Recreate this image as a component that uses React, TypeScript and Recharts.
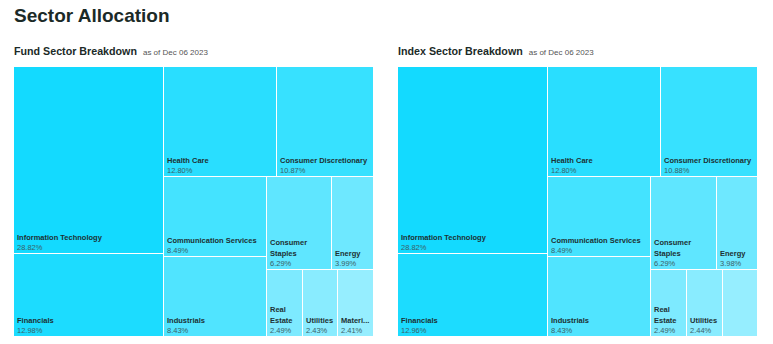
import React from 'react';
import { Treemap } from 'recharts';

const sectors = [
  'Information Technology',
  'Financials',
  'Health Care',
  'Consumer Discretionary',
  'Communication Services',
  'Industrials',
  'Consumer Staples',
  'Energy',
  'Real Estate',
  'Utilities',
  'Materials',
];
const fundWeights = [28.82, 12.98, 12.8, 10.87, 8.49, 8.43, 6.29, 3.99, 2.49, 2.43, 2.41];
const indexWeights = [28.82, 12.96, 12.8, 10.88, 8.49, 8.43, 6.29, 3.98, 2.49, 2.44, 2.41];

// cyan shades, largest sector first
const shades = [
  '#13daff', '#1cdcff', '#29deff', '#37e1ff', '#44e3ff', '#50e4ff',
  '#5fe6ff', '#6ee8ff', '#7deaff', '#89ecff', '#96eeff',
];

// the small sectors are grouped so they sit as two rows in the bottom-right corner
const groups = [[6, 7], [8, 9, 10]];

const asOf = 'as of Dec 06 2023';

const FONT = '"Liberation Sans", Arial, sans-serif';
const NAME_FONT = `bold 7.5px ${FONT}`;
const MAP_W = 360;
const MAP_H = 270;
// below this width a label that would need an ellipsis is dropped
const MIN_TRUNCATED_W = 36;

const buildTree = (weights: number[]) => {
  const leaf = (i: number) => ({ name: sectors[i], value: weights[i], rank: i });
  const grouped = groups.flat();
  const top = sectors.map((_, i) => i).filter((i) => !grouped.includes(i)).map(leaf);
  return [...top, ...groups.map((g, gi) => ({ name: `group-${gi}`, children: g.map(leaf) }))];
};

let measureCtx: CanvasRenderingContext2D | null = null;
const textWidth = (text: string, font: string) => {
  if (!measureCtx) measureCtx = document.createElement('canvas').getContext('2d');
  if (!measureCtx) return text.length * 4.2;
  measureCtx.font = font;
  return measureCtx.measureText(text).width;
};

const fitWord = (word: string, maxW: number) => {
  if (textWidth(word, NAME_FONT) <= maxW) return { text: word, cut: false };
  let cut = word.length - 1;
  while (cut > 1 && textWidth(word.slice(0, cut) + '...', NAME_FONT) > maxW) cut--;
  return { text: word.slice(0, cut) + '...', cut: true };
};

const wrapLabel = (label: string, maxW: number) => {
  const lines: string[] = [];
  let truncated = false;
  let current = '';
  for (const word of label.split(' ')) {
    const next = current ? `${current} ${word}` : word;
    if (textWidth(next, NAME_FONT) <= maxW) current = next;
    else {
      if (current) lines.push(current);
      const fitted = fitWord(word, maxW);
      truncated = truncated || fitted.cut;
      current = fitted.text;
    }
  }
  if (current) lines.push(current);
  return { lines, truncated };
};

const SectorCell = (props: any) => {
  const { x, y, width, height, name, value, rank, children, depth } = props;
  if (!depth || (children && children.length)) return null;
  const { lines, truncated } = wrapLabel(name, width - 6);
  const showLabel = !truncated || width >= MIN_TRUNCATED_W;
  const bottom = y + height;
  return (
    <g>
      <rect x={x} y={y} width={width - 1} height={height - 1} fill={shades[rank]} />
      {showLabel &&
        lines.map((line, i) => (
          <text
            key={line}
            x={x + 3}
            y={bottom - 14.5 - (lines.length - 1 - i) * 11}
            fontFamily={FONT}
            fontSize={7.5}
            fontWeight="bold"
            fill="#1d3033"
          >
            {line}
          </text>
        ))}
      {showLabel && (
        <text x={x + 3} y={bottom - 4.5} fontFamily={FONT} fontSize={7.5} fill="#3b6168">
          {`${value.toFixed(2)}%`}
        </text>
      )}
    </g>
  );
};

const Breakdown = ({ left, title, weights }: { left: number; title: string; weights: number[] }) => (
  <>
    <div
      style={{
        position: 'absolute',
        left,
        top: 44,
        whiteSpace: 'nowrap',
        fontFamily: FONT,
        color: '#1b2a27',
        lineHeight: '12px',
      }}
    >
      <span style={{ fontSize: 10.7, fontWeight: 'bold' }}>{title}</span>
      <span style={{ fontSize: 8, color: '#555', marginLeft: 6 }}>{asOf}</span>
    </div>
    <div style={{ position: 'absolute', left, top: 67 }}>
      <Treemap
        width={MAP_W}
        height={MAP_H}
        data={buildTree(weights)}
        dataKey="value"
        aspectRatio={1}
        isAnimationActive={false}
        content={(p: any) => <SectorCell {...p} />}
      />
    </div>
  </>
);

export default function App() {
  return (
    <div style={{ position: 'absolute', left: 0, top: 0, width: 773, height: 344, background: '#fff' }}>
      <div
        style={{
          position: 'absolute',
          left: 14,
          top: 5,
          fontFamily: FONT,
          fontSize: 19,
          fontWeight: 'bold',
          color: '#1b2a27',
          lineHeight: '22px',
        }}
      >
        Sector Allocation
      </div>
      <Breakdown left={14} title="Fund Sector Breakdown" weights={fundWeights} />
      <Breakdown left={398} title="Index Sector Breakdown" weights={indexWeights} />
    </div>
  );
}
